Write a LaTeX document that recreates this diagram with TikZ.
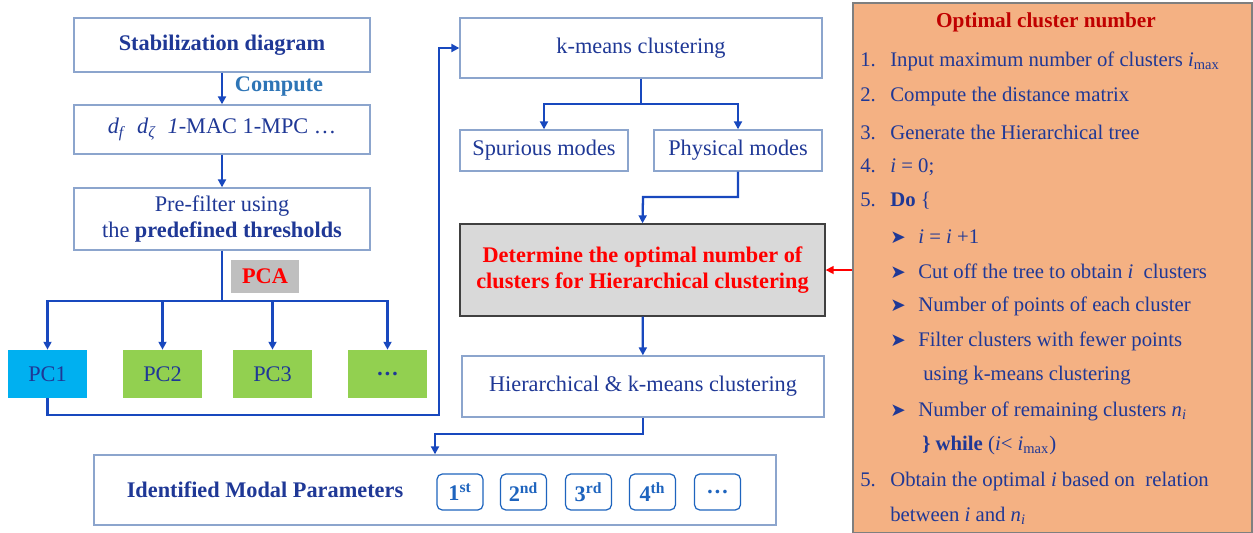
\documentclass[tikz,border=0pt]{standalone}
\usepackage{fontspec}
\setmainfont{Liberation Serif}
\newfontfamily\symfont{DejaVu Sans}
\usepackage{tikz}
\usetikzlibrary{positioning}
\usetikzlibrary{arrows.meta}

\definecolor{textblue}{RGB}{31,56,150}
\definecolor{boxline}{RGB}{140,165,205}
\definecolor{flowblue}{RGB}{24,72,190}
\definecolor{computeblue}{RGB}{46,117,182}
\definecolor{pcone}{RGB}{0,176,240}
\definecolor{pcgreen}{RGB}{146,208,80}
\definecolor{pcagray}{RGB}{191,191,191}
\definecolor{detgray}{RGB}{217,217,217}
\definecolor{ordblue}{RGB}{30,100,190}
\definecolor{panelfill}{RGB}{244,177,131}
\definecolor{panelline}{RGB}{127,127,127}
\definecolor{darkred}{RGB}{192,0,0}

\newcommand{\bigtxt}{\fontsize{12.7}{15}\selectfont}
\newcommand{\smalltxt}{\fontsize{11.8}{14}\selectfont}
\newcommand{\bul}{\makebox[0.56cm][l]{{\symfont\fontsize{10.5}{13}\selectfont ➤}}}
\newcommand{\num}[1]{\makebox[0.6cm][l]{#1}}

\tikzset{
	every node/.style={font=\bigtxt, text=textblue},
	box/.style={draw=boxline, line width=0.8pt, fill=white, align=center, inner sep=0pt},
	pcbox/.style={inner sep=0pt, minimum width=1.58cm, minimum height=0.96cm},
	ordbox/.style={draw=ordblue, line width=0.7pt, rounded corners=3pt, inner sep=0pt,
		minimum width=0.92cm, minimum height=0.72cm, text=ordblue, font=\bigtxt\bfseries},
	item/.style={anchor=west, inner sep=0pt, font=\smalltxt},
	flow/.style={draw=flowblue, line width=1.3pt, -{Triangle[length=4.5pt,width=4.5pt]}},
	link/.style={draw=flowblue, line width=1.3pt},
}

\begin{document}
\begin{tikzpicture}[x=0.02cm, y=-0.02cm]
	\useasboundingbox (0,0) rectangle (1253,532);

	\node[box, minimum width=5.92cm, minimum height=1.08cm, font=\bigtxt\bfseries] (stab) at (222,45) {Stabilization diagram};
	\node[font=\bigtxt\bfseries, text=computeblue] (compute) at (279,86) {Compute};
	\node[box, minimum width=5.92cm, minimum height=0.98cm] (feat) at (222,129.5)
		{\textit{d}\textsubscript{\textit{f}}\ \ \textit{d}\textsubscript{\textit{ζ}}\ \ \textit{1}-MAC 1-MPC …};
	\node[box, minimum width=5.92cm, minimum height=1.24cm] (prefilter) at (222,219)
		{Pre-filter using\\the \textbf{predefined thresholds}};
	\node[fill=pcagray, minimum width=1.36cm, minimum height=0.66cm, inner sep=0pt, text=red,
		font=\bigtxt\bfseries] (pca) at (265,276.5) {PCA};

	\node[pcbox, fill=pcone] (pc1) at (47.5,374) {PC1};
	\node[pcbox, fill=pcgreen] (pc2) at (162.5,374) {PC2};
	\node[pcbox, fill=pcgreen] (pc3) at (272.5,374) {PC3};
	\node[pcbox, fill=pcgreen, font=\bigtxt\bfseries] (pcn) at (387.5,374) {…};

	\node[box, minimum width=7.24cm, minimum height=1.2cm] (kmeans) at (641,48) {k-means clustering};
	\node[box, minimum width=3.36cm, minimum height=0.82cm] (spur) at (544,150.5) {Spurious modes};
	\node[box, minimum width=3.36cm, minimum height=0.82cm] (phys) at (738,150.5) {Physical modes};
	\node[box, draw=black!75, fill=detgray, minimum width=7.3cm, minimum height=1.84cm, text=red,
		font=\bigtxt\bfseries] (det) at (642.5,270)
		{Determine the optimal number of\\clusters for Hierarchical clustering};
	\node[box, minimum width=7.24cm, minimum height=1.22cm] (hier) at (643,386.5) {Hierarchical \& k-means clustering};

	\node[box, minimum width=13.64cm, minimum height=1.4cm] (ident) at (435,490) {};
	\node[font=\bigtxt\bfseries] (identtxt) at (265,490) {Identified Modal Parameters};
	\node[ordbox] (o1) at (460,492) {1\textsuperscript{st}};
	\node[ordbox] (o2) at (523.5,492) {2\textsuperscript{nd}};
	\node[ordbox] (o3) at (588.5,492) {3\textsuperscript{rd}};
	\node[ordbox] (o4) at (652.5,492) {4\textsuperscript{th}};
	\node[ordbox] (o5) at (717.5,492) {…};

	\coordinate (split) at (222,301);
	\coordinate (back) at (439,415);
	\coordinate (kbr) at (641,104);
	\coordinate (pbend) at (643,197);
	\coordinate (hbend) at (435,434);

	\draw[flow] (stab) -- (feat);
	\draw[flow] (feat) -- (prefilter);
	\draw[link] (prefilter) -- (split);
	\draw[flow] (split) -| (pc1);
	\draw[flow] (split) -| (pc2);
	\draw[flow] (split) -| (pc3);
	\draw[flow] (split) -| (pcn);
	\draw[flow] (pc1.south) |- (back) |- (kmeans.west);
	\draw[link] (kmeans) -- (kbr);
	\draw[flow] (kbr) -| (spur);
	\draw[flow] (kbr) -| (phys);
	\draw[flow] (phys.south) |- (pbend) -- (det.north);
	\draw[flow] (det) -- (hier);
	\draw[flow] (hier.south) |- (hbend) -- (ident.north);

	\node[draw=panelline, line width=0.8pt, fill=panelfill, minimum width=7.98cm, minimum height=10.6cm,
		inner sep=0pt] (panel) at (1052.5,268) {};
	\draw[draw=red, line width=0.9pt, -{Triangle[length=4.5pt,width=4.5pt]}] (panel.west |- det.east) -- (det.east);

	\node[font=\fontsize{12.1}{14}\selectfont\bfseries, text=darkred] (title) at (1046,22) {Optimal cluster number};
	\node[item] (l1) at (860,61) {\num{1.}Input maximum number of clusters \textit{i}\textsubscript{max}};
	\node[item] (l2) at (860,97) {\num{2.}Compute the distance matrix};
	\node[item] (l3) at (860,132) {\num{3.}Generate the Hierarchical tree};
	\node[item] (l4) at (860,167) {\num{4.}\textit{i} = 0;};
	\node[item] (l5) at (860,201) {\num{5.}\textbf{Do} \{};
	\node[item] (l6) at (890,237) {\bul\textit{i} = \textit{i} +1};
	\node[item] (l7) at (890,271) {\bul Cut off the tree to obtain \textit{i}\ \ clusters};
	\node[item] (l8) at (890,306) {\bul Number of points of each cluster};
	\node[item] (l9) at (890,341) {\bul Filter clusters with fewer points};
	\node[item] (l10) at (923,376) {using k-means clustering};
	\node[item] (l11) at (890,411) {\bul Number of remaining clusters \textit{n}\textsubscript{\textit{i}}};
	\node[item] (l12) at (922,445) {\textbf{\} while} (\textit{i}< \textit{i}\textsubscript{max})};
	\node[item] (l13) at (860,481) {\num{5.}Obtain the optimal \textit{i} based on\ \ relation};
	\node[item] (l14) at (890,516) {between \textit{i} and \textit{n}\textsubscript{\textit{i}}};
\end{tikzpicture}
\end{document}
